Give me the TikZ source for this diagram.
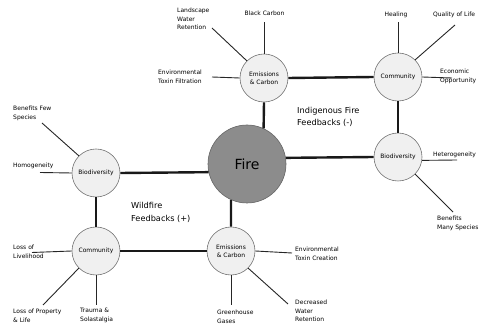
\documentclass[tikz,border=0pt]{standalone}
\usepackage{fontspec}
\setmainfont{DejaVu Sans}
\begin{document}
\begin{tikzpicture}[x=1pt,y=-1pt,
  small/.style={font=\fontsize{6}{8.6}\selectfont, align=left, inner sep=0pt},
  mid/.style={font=\fontsize{8.2}{12.2}\selectfont, align=left, inner sep=0pt},
  hub/.style={circle, draw=black!55, line width=0.6pt, fill=black!6, minimum size=48pt, inner sep=0pt, font=\fontsize{6}{7.6}\selectfont, align=center},
  link/.style={line width=2.4pt, black!90},
  spoke/.style={line width=0.9pt, black!85}]
\useasboundingbox (0,0) rectangle (485,328);
% hubs
\node[circle, draw=black!60, line width=0.6pt, fill=black!45, minimum size=78pt, inner sep=0pt, font=\fontsize{14}{16}\selectfont] (fire) at (247,164) {Fire};
\node[hub] (e1) at (264,78) {Emissions\\\& Carbon};
\node[hub] (c1) at (398,77) {Community};
\node[hub] (b2) at (398,157) {Biodiversity};
\node[hub] (b1) at (96,173) {Biodiversity};
\node[hub] (c2) at (96,251) {Community};
\node[hub] (e2) at (231,251) {Emissions\\\& Carbon};
% links
\draw[link] (e1.south) -- (fire.65);
\draw[link] (e2.north) -- (fire.-114);
\draw[link] (b1.east) -- (fire.192);
\draw[link] (b2.west) -- (fire.9);
\draw[link] (e1.east) -- (c1.west);
\draw[link] (c1.south) -- (b2.north);
\draw[link] (b1.south) -- (c2.north);
\draw[link] (c2.east) -- (e2.west);
% labels
\node[small, anchor=west] (lwr) at (177,19) {Landscape\\Water\\Retention};
\node[small] (bc) at (264.5,13) {Black Carbon};
\node[small, anchor=west] (etf) at (158,76.5) {Environmental\\Toxin Filtration};
\node[small] (heal) at (396,15) {Healing};
\node[small, anchor=west] (qol) at (433,15) {Quality of Life};
\node[small, anchor=west] (eco) at (440,76.5) {Economic\\Opportunity};
\node[small, anchor=west] (het) at (433,155) {Heterogeneity};
\node[small, anchor=west] (bms) at (437,223.5) {Benefits\\Many Species};
\node[small, anchor=west] (bfs) at (13,113.5) {Benefits Few\\Species};
\node[small, anchor=west] (hom) at (13,166) {Homogeneity};
\node[small, anchor=west] (lol) at (13,251.5) {Loss of\\Livelihood};
\node[small, anchor=west] (lpl) at (13,315.5) {Loss of Property\\\& Life};
\node[small, anchor=west] (tra) at (80,315.5) {Trauma \&\\Solastalgia};
\node[small, anchor=west] (gg) at (217,316.5) {Greenhouse\\Gases};
\node[small, anchor=west] (etc) at (295,253.5) {Environmental\\Toxin Creation};
\node[small, anchor=west] (dwr) at (295,311) {Decreased\\Water\\Retention};
\node[mid, anchor=west] (ind) at (297,117) {Indigenous Fire\\Feedbacks (-)};
\node[mid, anchor=west] (wild) at (131,212.5) {Wildfire\\Feedbacks (+)};
% spoke ends
\coordinate (plwr) at (212,28);
\coordinate (pbc) at (264,22);
\coordinate (petf) at (212,77);
\coordinate (pheal) at (398,22);
\coordinate (pqol) at (455,25);
\coordinate (peco) at (452,78);
\coordinate (phet) at (457,160);
\coordinate (pbms) at (453,212);
\coordinate (pbfs) at (42,123);
\coordinate (phom) at (40,172.5);
\coordinate (plol) at (32,252.5);
\coordinate (plpl) at (43,305);
\coordinate (ptra) at (96,305);
\coordinate (pgg) at (231,305);
\coordinate (petc) at (292,253);
\coordinate (pdwr) at (288,304);
% spokes
\draw[spoke] (e1.135) -- (plwr);
\draw[spoke] (e1.north) -- (pbc);
\draw[spoke] (e1.west) -- (petf);
\draw[spoke] (c1.north) -- (pheal);
\draw[spoke] (c1.45) -- (pqol);
\draw[spoke] (c1.east) -- (peco);
\draw[spoke] (b2.-8) -- (phet);
\draw[spoke] (b2.-45) -- (pbms);
\draw[spoke] (b1.135) -- (pbfs);
\draw[spoke] (b1.west) -- (phom);
\draw[spoke] (c2.west) -- (plol);
\draw[spoke] (c2.-135) -- (plpl);
\draw[spoke] (c2.south) -- (ptra);
\draw[spoke] (e2.south) -- (pgg);
\draw[spoke] (e2.east) -- (petc);
\draw[spoke] (e2.-45) -- (pdwr);
\end{tikzpicture}
\end{document}
